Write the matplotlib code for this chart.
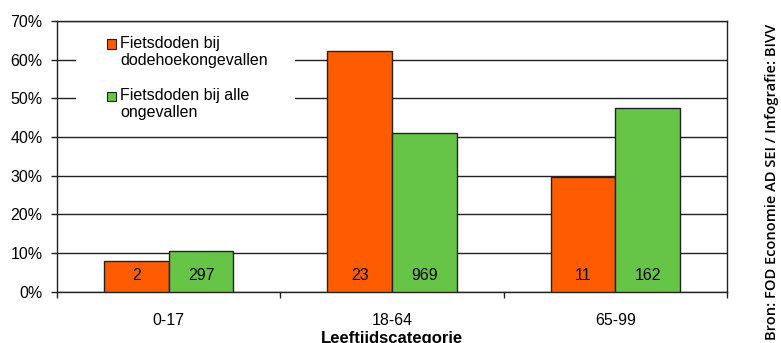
import matplotlib.pyplot as plt
import numpy as np
from matplotlib.patches import Rectangle
from matplotlib.ticker import PercentFormatter, FixedLocator

plt.rcParams['font.family'] = ['Liberation Sans', 'DejaVu Sans']

categories = ['0-17', '18-64', '65-99']
dodehoek_pct = [8.0, 62.2, 29.7]
alle_pct = [10.6, 41.1, 47.5]
dodehoek_n = [2, 23, 11]
alle_n = [297, 969, 162]
series_labels = ['Fietsdoden bij\ndodehoekongevallen', 'Fietsdoden bij alle\nongevallen']

orange = '#FF5B00'
green = '#66C447'
edge = '#222222'

fig = plt.figure(figsize=(7.81, 3.43), dpi=100)
ax = fig.add_axes([0.073, 0.149, 0.858, 0.790])

x = np.arange(len(categories))
w = 0.29
ax.bar(x - w / 2, dodehoek_pct, w, color=orange, edgecolor=edge, linewidth=1, zorder=3)
ax.bar(x + w / 2, alle_pct, w, color=green, edgecolor=edge, linewidth=1, zorder=3)

# counts written near the bottom of each bar
for xs, counts in [(x - w / 2, dodehoek_n), (x + w / 2, alle_n)]:
    for xi, n in zip(xs, counts):
        ax.annotate(str(n), (xi, 0), xytext=(0, 11.5), textcoords='offset points',
                    ha='center', va='center', fontsize=11.5, zorder=4)

ax.set_xlim(-0.5, 2.5)
ax.set_ylim(0, 70)
ax.set_yticks(np.arange(0, 71, 10))
ax.yaxis.set_major_formatter(PercentFormatter(decimals=0))
ax.yaxis.grid(True, color=edge, linewidth=1)
ax.set_axisbelow(True)

ax.xaxis.set_major_locator(FixedLocator([-0.5, 0.5, 1.5, 2.5]))
ax.xaxis.set_minor_locator(FixedLocator(x))
ax.set_xticklabels([])
ax.set_xticklabels(categories, minor=True)
ax.tick_params(axis='x', which='minor', length=0, pad=15, labelsize=11.5)
ax.tick_params(axis='x', which='major', length=4, width=1, color=edge)
ax.tick_params(axis='y', length=4.5, width=1, color=edge, labelsize=11.5, pad=6)

for s in ax.spines.values():
    s.set_color(edge)
    s.set_linewidth(1)

ax.set_xlabel('Leeftijdscategorie', fontweight='bold', fontsize=12, labelpad=2)

# legend: white block over the gridlines, square swatch beside the first line of each label
ax.add_patch(Rectangle((0.028, 0.60), 0.327, 0.38, transform=ax.transAxes,
                       facecolor='white', edgecolor='none', zorder=5))
swatch_y = [0.915, 0.722]
for col, lab, sy in zip([orange, green], series_labels, swatch_y):
    ax.add_patch(Rectangle((0.0745, sy - 0.017), 0.0135, 0.034, transform=ax.transAxes,
                           facecolor=col, edgecolor=edge, linewidth=0.8, zorder=6))
    ax.text(0.094, sy + 0.03, lab, transform=ax.transAxes, ha='left', va='top',
            fontsize=11.5, linespacing=1.15, zorder=6)

fig.text(0.988, 0.47, 'Bron: FOD Economie AD SEI / Infografie: BIVV', rotation=90,
         ha='center', va='center', fontsize=10.5, fontweight='semibold',
         family=['Open Sans', 'DejaVu Sans'])

fig.savefig('out.png', dpi=100)
